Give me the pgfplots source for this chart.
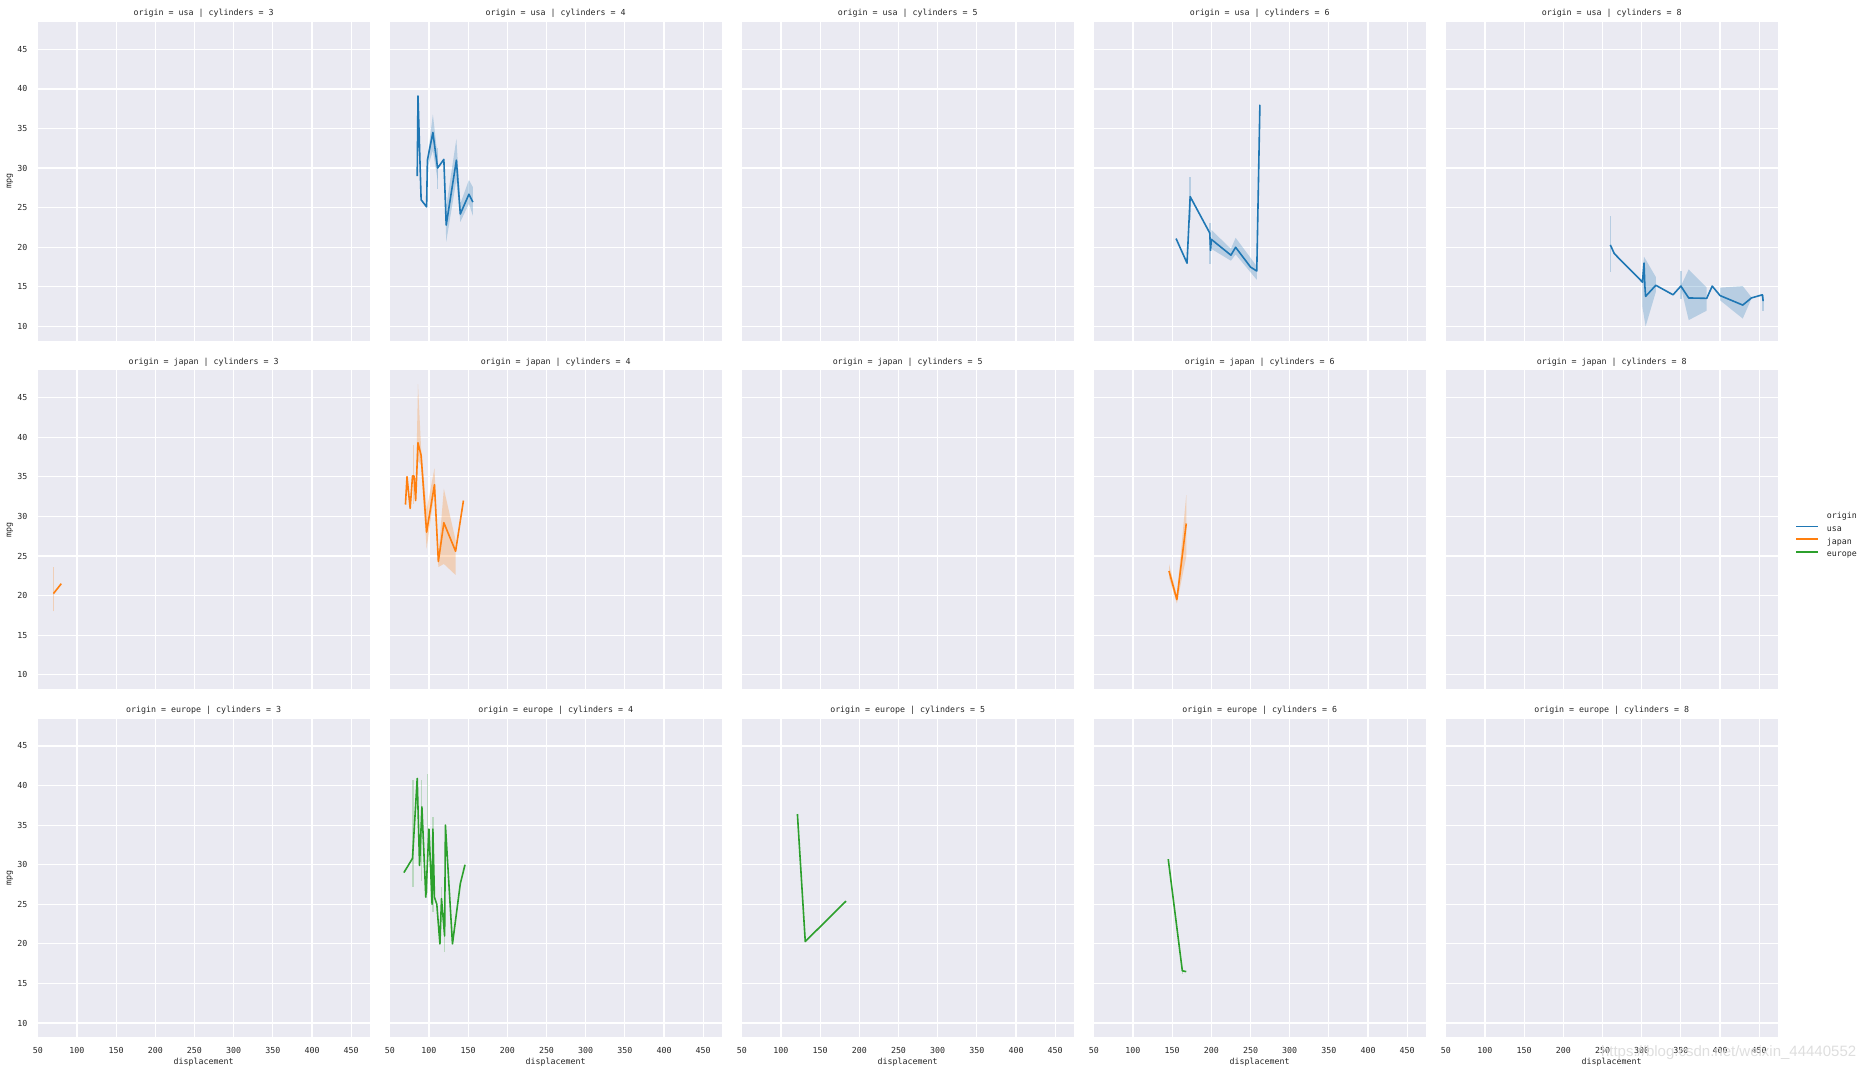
\documentclass[border=0pt]{standalone}
\usepackage{fontspec}
\setmainfont{DejaVu Sans Mono}
\newfontfamily\wmfont{Liberation Sans}
\usepackage{pgfplots}
\pgfplotsset{compat=1.18}
\definecolor{bgc}{HTML}{EAEAF2}
\definecolor{txt}{HTML}{262626}
\definecolor{cusa}{HTML}{1F77B4}
\definecolor{cjap}{HTML}{FF7F0E}
\definecolor{ceur}{HTML}{2CA02C}
\pgfplotsset{
 facet/.style={
  scale only axis, width=166pt, height=159.35pt, anchor=north west,
  xmin=49.9, xmax=473.6, ymin=8.2, ymax=48.45,
  xtick={50,100,...,450}, ytick={10,15,...,45},
  grid=major, grid style={white, line width=0.6pt},
  axis background/.style={fill=bgc},
  axis line style={draw=none},
  major tick length=0pt,
  tick style={draw=none},
  font=\fontsize{4.15pt}{5pt}\selectfont,
  /pgf/number format/assume math mode=true,
  ticklabel style={text=txt, inner sep=0pt, font=\fontsize{4.15pt}{5pt}\selectfont},
  xticklabel style={yshift=-4.7pt},
  yticklabel style={xshift=-5pt},
  every axis title/.style={at={(axis description cs:0.5,1)}, yshift=4.15pt, anchor=center, inner sep=0pt, text=txt},
  every axis x label/.style={at={(axis description cs:0.5,0)}, yshift=-12.2pt, anchor=center, inner sep=0pt, text=txt},
  every axis y label/.style={at={(axis description cs:0,0.5)}, xshift=-13.85pt, rotate=90, anchor=center, inner sep=0pt, text=txt},
 },
 nox/.style={xticklabels={}},
 noy/.style={yticklabels={}},
 ln/.style={line width=0.8pt, color=#1, mark=none, line join=round},
 band/.style={fill=#1, fill opacity=0.25, draw=none, forget plot},
 ci/.style={draw=#1, draw opacity=0.25, line width=0.7pt, mark=none, forget plot},
}
\begin{document}
\begin{tikzpicture}
\useasboundingbox (0,0) rectangle (931.5pt,-536pt);
% ---------------- row 0 : usa
\begin{axis}[facet, nox, at={(18.85pt,-11pt)}, title={origin = usa | cylinders = 3}, ylabel={mpg}]
\end{axis}
\begin{axis}[facet, nox, noy, at={(194.85pt,-11pt)}, title={origin = usa | cylinders = 4}]
\addplot[band=cusa] coordinates {(98,31.2)(105,36.8)(111,31.5)(111,28.5)(105,32.2)(98,30.0)};
\addplot[band=cusa] coordinates {(119,31.1)(122,25.1)(135,33.7)(140,25.5)(151,28.5)(156,27.6)(156,24.0)(151,25.5)(140,23.2)(135,28.5)(122,20.7)(119,31.1)};
\addplot[ci=cusa] coordinates {(111,27.4)(111,32.5)};
\addplot[ln=cusa] coordinates {(85,29.0)(86,39.1)(90,26.0)(97,25.1)(98,31.0)(105,34.5)(111,30.0)(119,31.1)(122,22.8)(135,31.0)(140,24.2)(151,26.7)(156,25.7)};
\end{axis}
\begin{axis}[facet, nox, noy, at={(370.85pt,-11pt)}, title={origin = usa | cylinders = 5}]
\end{axis}
\begin{axis}[facet, nox, noy, at={(546.85pt,-11pt)}, title={origin = usa | cylinders = 6}]
\addplot[ci=cusa] coordinates {(173,23.4)(173,28.9)};
\addplot[ci=cusa] coordinates {(198.5,17.9)(198.5,23.1)};
\addplot[band=cusa] coordinates {(200,22.2)(225,19.8)(231,21.2)(258,17.6)(258,15.9)(231,19.1)(225,18.3)(200,19.8)};
\addplot[ln=cusa] coordinates {(155,21.1)(169,18.0)(173,26.4)(198,21.8)(199,19.6)(200,21.0)(225,19.0)(231,20.0)(250,17.5)(258,17.0)(262,38.0)};
\end{axis}
\begin{axis}[facet, nox, noy, at={(722.85pt,-11pt)}, title={origin = usa | cylinders = 8}]
\addplot[ci=cusa] coordinates {(260,16.9)(260,23.9)};
\addplot[band=cusa] coordinates {(301,16.9)(303,18.8)(318,16.25)(318,14.35)(305,10.0)(301,12.45)};
\addplot[band=cusa] coordinates {(350,15.1)(360,17.2)(383,14.9)(383,12.0)(360,10.8)(350,15.0)};
\addplot[ci=cusa] coordinates {(350,13.5)(350,17.0)};
\addplot[band=cusa] coordinates {(400,14.9)(429,15.1)(440,13.7)(440,13.5)(429,11.0)(400,13.3)};
\addplot[ci=cusa] coordinates {(455,12.0)(455,14.0)};
\addplot[ln=cusa] coordinates {(260,20.3)(265,19.2)(301,15.6)(303,18.0)(304,15.2)(305,13.8)(318,15.2)(340,14.0)(350,15.1)(360,13.6)(383,13.55)(390,15.1)(400,13.9)(429,12.7)(440,13.6)(454,14.0)(455,13.2)};
\end{axis}
% ---------------- row 1 : japan
\begin{axis}[facet, nox, at={(18.85pt,-185.15pt)}, title={origin = japan | cylinders = 3}, ylabel={mpg}]
\addplot[ci=cjap] coordinates {(70,18.0)(70,23.6)};
\addplot[ln=cjap] coordinates {(70,20.25)(80,21.5)};
\end{axis}
\begin{axis}[facet, nox, noy, at={(194.85pt,-185.15pt)}, title={origin = japan | cylinders = 4}]
\addplot[band=cjap] coordinates {(83,32.0)(86,46.7)(90,38.5)(97,30.8)(107,36.1)(112,25.0)(119,33.5)(134,27.0)(134,22.6)(119,24.0)(112,23.6)(107,33.1)(97,25.9)(90,36.5)(86,37.0)(83,31.9)};
\addplot[ci=cjap] coordinates {(80,31.6)(80,39.0)};
\addplot[ln=cjap] coordinates {(70,31.5)(72,35.0)(76,31.0)(79,35.1)(81,35.1)(83,32.0)(86,39.3)(90,37.7)(97,28.0)(107,34.0)(112,24.3)(119,29.2)(134,25.6)(144,32.0)};
\end{axis}
\begin{axis}[facet, nox, noy, at={(370.85pt,-185.15pt)}, title={origin = japan | cylinders = 5}]
\end{axis}
\begin{axis}[facet, nox, noy, at={(546.85pt,-185.15pt)}, title={origin = japan | cylinders = 6}]
\addplot[band=cjap] coordinates {(146,24.0)(156,20.0)(168,32.7)(168,24.9)(156,19.0)(146,22.3)};
\addplot[ln=cjap] coordinates {(146,23.1)(156,19.5)(168,29.1)};
\end{axis}
\begin{axis}[facet, nox, noy, at={(722.85pt,-185.15pt)}, title={origin = japan | cylinders = 8},
  legend cell align=left,
  legend image code/.code={\draw[#1] (0pt,1.5pt) -- (10.85pt,1.5pt);},
  legend style={at={(1.052,0.4805)}, anchor=west, draw=none, fill=none, inner sep=0pt,
    row sep=2.35pt, font=\fontsize{4.15pt}{5pt}\selectfont,
    nodes={inner sep=0pt, text height=3pt, text depth=1pt, text=txt},
    /tikz/every odd column/.style={column sep=4.15pt}}]
\addlegendimage{empty legend}\addlegendentry{origin}
\addlegendimage{cusa, line width=0.8pt}\addlegendentry{usa}
\addlegendimage{cjap, line width=0.8pt}\addlegendentry{japan}
\addlegendimage{ceur, line width=0.8pt}\addlegendentry{europe}
\end{axis}
% ---------------- row 2 : europe
\begin{axis}[facet, at={(18.85pt,-359.3pt)}, title={origin = europe | cylinders = 3}, ylabel={mpg}, xlabel={displacement}]
\end{axis}
\begin{axis}[facet, noy, at={(194.85pt,-359.3pt)}, title={origin = europe | cylinders = 4}, xlabel={displacement}]
\addplot[ci=ceur] coordinates {(79.5,27.2)(79.5,40.7)};
\addplot[ci=ceur] coordinates {(90.7,28.0)(90.7,40.7)};
\addplot[ci=ceur] coordinates {(98,26.4)(98,41.5)};
\addplot[ci=ceur] coordinates {(105,24.0)(105,36.0)};
\addplot[ci=ceur] coordinates {(116,23.8)(116,27.2)};
\addplot[ci=ceur] coordinates {(120,19.0)(120,23.0)};
\addplot[ln=ceur] coordinates {(68,29.0)(79,30.8)(85,40.9)(88,29.9)(91,37.3)(96,25.9)(100,34.5)(104,25.0)(105,34.5)(107,25.9)(110,25.0)(114,20.0)(116,25.7)(120,21.0)(121,35.0)(130,20.0)(140,27.6)(146,30.0)};
\end{axis}
\begin{axis}[facet, noy, at={(370.85pt,-359.3pt)}, title={origin = europe | cylinders = 5}, xlabel={displacement}]
\addplot[ln=ceur] coordinates {(121,36.4)(131,20.3)(183,25.4)};
\end{axis}
\begin{axis}[facet, noy, at={(546.85pt,-359.3pt)}, title={origin = europe | cylinders = 6}, xlabel={displacement}]
\addplot[ci=ceur] coordinates {(163,16.2)(163,17.0)};
\addplot[ln=ceur] coordinates {(145,30.7)(163,16.6)(168,16.5)};
\end{axis}
\begin{axis}[facet, noy, at={(722.85pt,-359.3pt)}, title={origin = europe | cylinders = 8}, xlabel={displacement}]
\end{axis}
\node[anchor=base east, inner sep=0pt, text=black!13, font=\wmfont\fontsize{7.5pt}{9pt}\selectfont] at (928.3pt,-528.3pt) {https://blog.csdn.net/weixin\_44440552};
\end{tikzpicture}
\end{document}
